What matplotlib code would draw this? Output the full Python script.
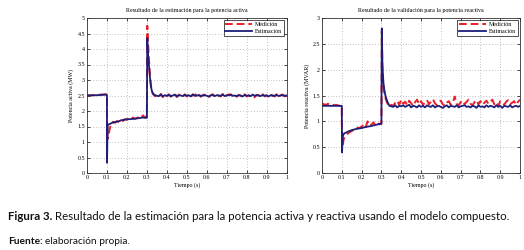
import matplotlib
matplotlib.use("Agg")
import matplotlib.pyplot as plt

# ---------------- data ----------------
t_tail = [0.36, 0.37, 0.38, 0.39, 0.40, 0.41, 0.42, 0.43, 0.44, 0.45,
          0.46, 0.47, 0.48, 0.49, 0.50, 0.51, 0.52, 0.53, 0.54, 0.55,
          0.56, 0.57, 0.58, 0.59, 0.60, 0.61, 0.62, 0.63, 0.64, 0.65,
          0.66, 0.67, 0.68, 0.69, 0.70, 0.71, 0.72, 0.73, 0.74, 0.75,
          0.76, 0.77, 0.78, 0.79, 0.80, 0.81, 0.82, 0.83, 0.84, 0.85,
          0.86, 0.87, 0.88, 0.89, 0.90, 0.91, 0.92, 0.93, 0.94, 0.95,
          0.96, 0.97, 0.98, 0.99, 1.00]

# Active power - estimation
p_est_t = [0, 0.05, 0.098, 0.1, 0.1005, 0.102, 0.104, 0.11, 0.12, 0.13, 0.14, 0.15,
           0.16, 0.17, 0.18, 0.19, 0.20, 0.22, 0.24, 0.26, 0.28, 0.29, 0.298, 0.3,
           0.302, 0.305, 0.31, 0.315, 0.32, 0.325, 0.33, 0.34, 0.35]
p_est_head = [2.5, 2.51, 2.53, 2.52, 0.33, 1.0, 1.55, 1.57, 1.6, 1.63, 1.64, 1.66,
              1.67, 1.70, 1.71, 1.72, 1.73, 1.74, 1.75, 1.77, 1.79, 1.78, 1.78, 1.78,
              4.35, 3.9, 3.5, 3.1, 2.8, 2.65, 2.57, 2.51, 2.49]
p_est_tail = [2.48, 2.53, 2.47, 2.51, 2.49, 2.52, 2.48, 2.50, 2.53, 2.47,
              2.51, 2.50, 2.48, 2.52, 2.49, 2.51, 2.47, 2.53, 2.50, 2.49,
              2.52, 2.48, 2.50, 2.51, 2.49, 2.47, 2.50, 2.52, 2.48, 2.51,
              2.50, 2.49, 2.53, 2.48, 2.50, 2.51, 2.52, 2.49, 2.50, 2.48,
              2.51, 2.50, 2.47, 2.52, 2.49, 2.50, 2.48, 2.53, 2.49, 2.51,
              2.50, 2.48, 2.52, 2.49, 2.50, 2.47, 2.51, 2.50, 2.49, 2.52,
              2.48, 2.50, 2.51, 2.49, 2.50]

# Active power - measurement
p_med_t = [0, 0.05, 0.098, 0.1, 0.1005, 0.103, 0.106, 0.11, 0.115, 0.12, 0.125, 0.13,
           0.14, 0.15, 0.16, 0.17, 0.18, 0.19, 0.20, 0.21, 0.22, 0.23, 0.24, 0.25,
           0.26, 0.27, 0.28, 0.29, 0.298, 0.3, 0.302, 0.305, 0.31, 0.315, 0.32, 0.325,
           0.33, 0.34, 0.35]
p_med_head = [2.5, 2.52, 2.54, 2.52, 1.6, 1.1, 1.15, 1.3, 1.45, 1.55, 1.62, 1.65,
              1.62, 1.67, 1.64, 1.70, 1.68, 1.74, 1.72, 1.77, 1.74, 1.79, 1.75, 1.78,
              1.80, 1.77, 1.86, 1.80, 1.82, 1.82, 4.75, 4.3, 3.7, 3.2, 2.85, 2.65,
              2.55, 2.48, 2.52]
p_med_tail = [2.46, 2.55, 2.45, 2.53, 2.48, 2.54, 2.46, 2.52, 2.55, 2.45,
              2.53, 2.49, 2.46, 2.54, 2.47, 2.52, 2.45, 2.54, 2.49, 2.58,
              2.53, 2.46, 2.51, 2.53, 2.47, 2.45, 2.51, 2.54, 2.46, 2.52,
              2.49, 2.47, 2.55, 2.46, 2.51, 2.53, 2.54, 2.47, 2.51, 2.46,
              2.52, 2.49, 2.45, 2.54, 2.47, 2.51, 2.46, 2.42, 2.45, 2.52,
              2.51, 2.46, 2.54, 2.47, 2.51, 2.45, 2.53, 2.49, 2.47, 2.54,
              2.46, 2.51, 2.53, 2.47, 2.50]

# Reactive power - estimation
q_est_t = [0, 0.05, 0.0995, 0.1, 0.101, 0.103, 0.106, 0.11, 0.12, 0.13, 0.15, 0.17,
           0.2, 0.22, 0.25, 0.27, 0.29, 0.299, 0.3, 0.302, 0.305, 0.31, 0.315, 0.32,
           0.33, 0.34, 0.35]
q_est_head = [1.3, 1.3, 1.3, 1.3, 0.4, 0.55, 0.72, 0.76, 0.78, 0.8, 0.83, 0.85,
              0.87, 0.89, 0.91, 0.93, 0.95, 0.95, 0.95, 2.8, 2.1, 1.75, 1.6, 1.5,
              1.38, 1.3, 1.29]
q_est_tail = [1.28, 1.31, 1.27, 1.30, 1.29, 1.31, 1.28, 1.30, 1.32, 1.27,
              1.30, 1.29, 1.27, 1.31, 1.28, 1.30, 1.27, 1.31, 1.29, 1.28,
              1.31, 1.27, 1.29, 1.30, 1.28, 1.26, 1.29, 1.31, 1.27, 1.30,
              1.29, 1.28, 1.31, 1.27, 1.29, 1.30, 1.31, 1.28, 1.29, 1.27,
              1.30, 1.29, 1.26, 1.31, 1.28, 1.29, 1.27, 1.31, 1.28, 1.30,
              1.29, 1.27, 1.31, 1.28, 1.30, 1.26, 1.30, 1.29, 1.28, 1.31,
              1.27, 1.29, 1.30, 1.28, 1.30]

# Reactive power - measurement
q_med_t = [0, 0.01, 0.02, 0.03, 0.04, 0.05, 0.06, 0.07, 0.08, 0.09, 0.0995, 0.1,
           0.101, 0.104, 0.107, 0.11, 0.12, 0.13, 0.14, 0.15, 0.16, 0.17, 0.18, 0.19,
           0.2, 0.21, 0.22, 0.23, 0.24, 0.25, 0.26, 0.27, 0.28, 0.29, 0.299, 0.3,
           0.302, 0.305, 0.31, 0.315, 0.32, 0.33, 0.34, 0.35]
q_med_head = [1.35, 1.33, 1.32, 1.34, 1.32, 1.33, 1.31, 1.32, 1.31, 1.3, 1.3, 1.3,
              0.45, 0.5, 0.6, 0.66, 0.72, 0.76, 0.79, 0.81, 0.84, 0.86, 0.88, 0.87,
              0.9, 0.93, 0.88, 1.0, 0.92, 0.94, 0.98, 0.92, 0.97, 0.94, 0.96, 0.96,
              2.75, 2.0, 1.7, 1.55, 1.45, 1.35, 1.28, 1.32]
q_med_tail = [1.30, 1.36, 1.40, 1.32, 1.42, 1.34, 1.38, 1.31, 1.40, 1.35,
              1.30, 1.37, 1.42, 1.33, 1.39, 1.32, 1.36, 1.41, 1.33, 1.38,
              1.43, 1.35, 1.31, 1.37, 1.40, 1.33, 1.30, 1.36, 1.39, 1.32,
              1.35, 1.48, 1.34, 1.31, 1.37, 1.40, 1.33, 1.38, 1.42, 1.34,
              1.31, 1.37, 1.41, 1.33, 1.39, 1.32, 1.36, 1.40, 1.34, 1.38,
              1.42, 1.33, 1.37, 1.30, 1.39, 1.35, 1.32, 1.38, 1.41, 1.33,
              1.36, 1.39, 1.32, 1.38, 1.42]

x_ticks = [0, 0.1, 0.2, 0.3, 0.4, 0.5, 0.6, 0.7, 0.8, 0.9, 1]
x_ticklabels = ["0", "0.1", "0.2", "0.3", "0.4", "0.5", "0.6", "0.7", "0.8", "0.9", "1"]
p_ticks = [0, 0.5, 1, 1.5, 2, 2.5, 3, 3.5, 4, 4.5, 5]
p_ticklabels = ["0", "0.5", "1", "1.5", "2", "2.5", "3", "3.5", "4", "4.5", "5"]
q_ticks = [0, 0.5, 1, 1.5, 2, 2.5, 3]
q_ticklabels = ["0", "0.5", "1", "1.5", "2", "2.5", "3"]

# ---------------- style ----------------
RED = "#e8202a"
NAVY = "#1e1e78"
SERIF = ["Liberation Serif", "DejaVu Serif"]
FS = 4.3

fig = plt.figure(figsize=(5.24, 2.5), dpi=100)
fig.patch.set_facecolor("white")

def setup(ax, title, ylabel, yticks, yticklabels, ylim):
    ax.set_xlim(0, 1)
    ax.set_ylim(*ylim)
    ax.set_xticks(x_ticks)
    ax.set_xticklabels(x_ticklabels, fontfamily=SERIF, fontsize=FS)
    ax.set_yticks(yticks)
    ax.set_yticklabels(yticklabels, fontfamily=SERIF, fontsize=FS)
    ax.tick_params(direction="in", length=2, width=0.5, pad=1.5, top=True, right=True)
    ax.grid(True, linestyle=(0, (1, 3)), color="#888888", linewidth=0.5)
    for s in ax.spines.values():
        s.set_linewidth(0.6)
        s.set_color("#333333")
    ax.set_title(title, fontfamily=SERIF, fontsize=FS, pad=4)
    ax.set_xlabel("Tiempo (s)", fontfamily=SERIF, fontsize=FS, labelpad=1.5)
    ax.set_ylabel(ylabel, fontfamily=SERIF, fontsize=FS, labelpad=2)
    leg = ax.legend(loc="upper right", prop={"family": SERIF, "size": FS},
                    frameon=True, fancybox=False, edgecolor="black",
                    handlelength=4.5, borderpad=0.3, labelspacing=0.2,
                    handletextpad=0.5, borderaxespad=0.4)
    leg.get_frame().set_linewidth(0.6)

ax1 = fig.add_axes([0.166, 0.308, 0.381, 0.62])
ax1.plot(p_med_t + t_tail, p_med_head + p_med_tail, color=RED, linewidth=1.4,
         dashes=(4, 2), label="Medición")
ax1.plot(p_est_t + t_tail, p_est_head + p_est_tail, color=NAVY, linewidth=1.3,
         label="Estimación")
setup(ax1, "Resultado de la estimación para la potencia activa",
      "Potencia activa (MW)", p_ticks, p_ticklabels, (0, 5))

ax2 = fig.add_axes([0.6145, 0.308, 0.378, 0.62])
ax2.plot(q_med_t + t_tail, q_med_head + q_med_tail, color=RED, linewidth=1.4,
         dashes=(4, 2), label="Medición")
ax2.plot(q_est_t + t_tail, q_est_head + q_est_tail, color=NAVY, linewidth=1.3,
         label="Estimación")
setup(ax2, "Resultado de la validación para la potencia reactiva",
      "Potencia reactiva (MVAR)", q_ticks, q_ticklabels, (0, 3))

# ---------------- caption ----------------
CAP = ["Lato", "DejaVu Sans"]
fig.canvas.draw()
r = fig.canvas.get_renderer()
t1 = fig.text(8 / 524, 1 - 217 / 250, "Figura 3.", fontfamily=CAP, fontweight="bold",
              fontsize=8.3, va="center", ha="left", color="#111111")
bb = t1.get_window_extent(renderer=r)
fig.text(bb.x1 / fig.bbox.width + 3 / 524, 1 - 217 / 250,
         "Resultado de la estimación para la potencia activa y reactiva usando el modelo compuesto.",
         fontfamily=CAP, fontsize=8.3, va="center", ha="left", color="#111111")
t3 = fig.text(8 / 524, 1 - 241 / 250, "Fuente:", fontfamily=CAP, fontweight="bold",
              fontsize=7.3, va="center", ha="left", color="#111111")
bb3 = t3.get_window_extent(renderer=r)
fig.text(bb3.x1 / fig.bbox.width + 2.5 / 524, 1 - 241 / 250, "elaboración propia.",
         fontfamily=CAP, fontsize=7.3, va="center", ha="left", color="#111111")

fig.savefig("out.png", dpi=100, facecolor="white")
